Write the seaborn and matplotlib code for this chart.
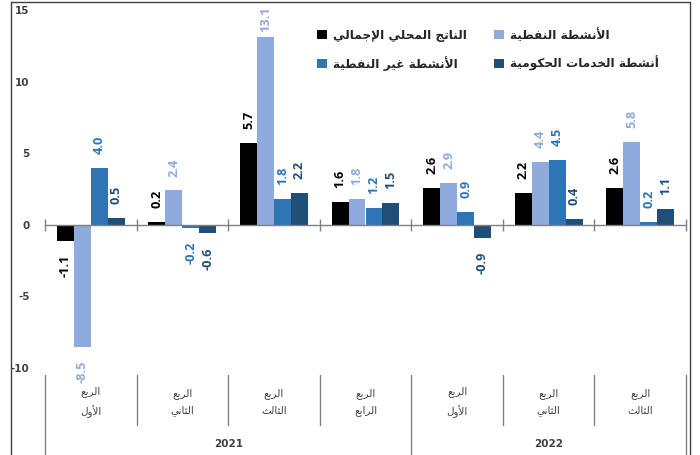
import matplotlib
matplotlib.use("Agg")
import matplotlib.pyplot as plt
from matplotlib.lines import Line2D
import matplotlib.transforms as mtransforms
import seaborn as sns
import pandas as pd

# ---------------- data ----------------
periods = ["2021-Q1", "2021-Q2", "2021-Q3", "2021-Q4", "2022-Q1", "2022-Q2", "2022-Q3"]
quarter_labels = ["الربع\nالأول", "الربع\nالثاني", "الربع\nالثالث", "الربع\nالرابع",
                  "الربع\nالأول", "الربع\nالثاني", "الربع\nالثالث"]
years = ["2021", "2022"]
year_span = [4, 3]

series_names = ["الناتج المحلي الإجمالي", "الأنشطة النفطية",
                "الأنشطة غير النفطية", "أنشطة الخدمات الحكومية"]
gdp = [-1.1, 0.2, 5.7, 1.6, 2.6, 2.2, 2.6]
oil = [-8.5, 2.4, 13.1, 1.8, 2.9, 4.4, 5.8]
non_oil = [4.0, -0.2, 1.8, 1.2, 0.9, 4.5, 0.2]
gov = [0.5, -0.6, 2.2, 1.5, -0.9, 0.4, 1.1]
colors = ["#000000", "#8FAADC", "#2E75B6", "#1F4E79"]

yticks = [-10, -5, 0, 5, 10, 15]

# ---------------- minimal Arabic shaping for matplotlib ----------------
def _dual(cp):
    return tuple(chr(cp + k) for k in range(4))

def _right(cp):
    return (chr(cp), chr(cp + 1), None, None)

FORMS = {
    'ء': ('\uFE80', None, None, None),
    'آ': _right(0xFE81), 'أ': _right(0xFE83), 'ؤ': _right(0xFE85), 'إ': _right(0xFE87),
    'ئ': _dual(0xFE89), 'ا': _right(0xFE8D), 'ب': _dual(0xFE8F), 'ة': _right(0xFE93),
    'ت': _dual(0xFE95), 'ث': _dual(0xFE99), 'ج': _dual(0xFE9D), 'ح': _dual(0xFEA1),
    'خ': _dual(0xFEA5), 'د': _right(0xFEA9), 'ذ': _right(0xFEAB), 'ر': _right(0xFEAD),
    'ز': _right(0xFEAF), 'س': _dual(0xFEB1), 'ش': _dual(0xFEB5), 'ص': _dual(0xFEB9),
    'ض': _dual(0xFEBD), 'ط': _dual(0xFEC1), 'ظ': _dual(0xFEC5), 'ع': _dual(0xFEC9),
    'غ': _dual(0xFECD), 'ف': _dual(0xFED1), 'ق': _dual(0xFED5), 'ك': _dual(0xFED9),
    'ل': _dual(0xFEDD), 'م': _dual(0xFEE1), 'ن': _dual(0xFEE5), 'ه': _dual(0xFEE9),
    'و': _right(0xFEED), 'ى': _right(0xFEEF), 'ي': _dual(0xFEF1),
}
LAM_ALEF = {'آ': ('\uFEF5', '\uFEF6'), 'أ': ('\uFEF7', '\uFEF8'),
            'إ': ('\uFEF9', '\uFEFA'), 'ا': ('\uFEFB', '\uFEFC')}


def _shape_line(text):
    items = []
    i = 0
    while i < len(text):
        c = text[i]
        if c == 'ل' and i + 1 < len(text) and text[i + 1] in LAM_ALEF:
            items.append(('LA', text[i + 1]))
            i += 2
        else:
            items.append((c, None))
            i += 1

    def joins_next(it):
        c, _ = it
        if c == 'LA':
            return False
        f = FORMS.get(c)
        return f is not None and f[2] is not None

    def joins_prev(it):
        c, _ = it
        if c == 'LA':
            return True
        f = FORMS.get(c)
        return f is not None and f[1] is not None

    out = []
    for k, it in enumerate(items):
        prev = items[k - 1] if k > 0 else None
        nxt = items[k + 1] if k + 1 < len(items) else None
        p = prev is not None and joins_next(prev) and joins_prev(it)
        n = nxt is not None and joins_next(it) and joins_prev(nxt)
        c, a = it
        if c == 'LA':
            out.append(LAM_ALEF[a][1 if p else 0])
        elif c in FORMS:
            iso, fin, ini, med = FORMS[c]
            if p and n:
                out.append(med)
            elif p:
                out.append(fin)
            elif n:
                out.append(ini)
            else:
                out.append(iso)
        else:
            out.append(c)
    return ''.join(reversed(out))


def ar(text):
    return '\n'.join(_shape_line(line) for line in text.split('\n'))


# ---------------- data frame ----------------
values = [gdp, oil, non_oil, gov]
rows = []
for name, vals in zip(series_names, values):
    for per, v in zip(periods, vals):
        rows.append({"period": per, "series": name, "value": v})
df = pd.DataFrame(rows)

# ---------------- plot ----------------
sns.set_theme(style="white")
plt.rcParams["font.family"] = ["DejaVu Sans"]

W, H = 700, 455
fig = plt.figure(figsize=(W / 100, H / 100), dpi=100)
ax = fig.add_axes([45 / W, (H - 368) / H, 641 / W, 358 / H])

sns.barplot(data=df, x="period", y="value", hue="series", order=periods,
            hue_order=series_names, palette=dict(zip(series_names, colors)),
            width=0.74, linewidth=0, saturation=1, legend=False, ax=ax,
            errorbar=None)

ax.set_xlim(-0.5, len(periods) - 0.5)
ax.set_ylim(yticks[0], yticks[-1])
ax.set_xlabel("")
ax.set_ylabel("")

# bar value labels
all_labels = []
for cont, col in zip(ax.containers, colors):
    all_labels += ax.bar_label(cont, fmt="%.1f", padding=10, rotation=90, color=col,
                               fontsize=9.2, fontweight="bold", family="Open Sans",
                               clip_on=False)

# spines / zero axis
for s in ["top", "right", "left"]:
    ax.spines[s].set_visible(False)
ax.spines["bottom"].set_position(("data", 0))
ax.spines["bottom"].set_color("#808080")
ax.spines["bottom"].set_linewidth(1.0)
ax.set_xticks(range(len(periods)))
ax.set_xticklabels([""] * len(periods))
ax.tick_params(axis="x", which="major", length=0)
ax.set_xticks([i - 0.5 for i in range(len(periods) + 1)], minor=True)
ax.tick_params(axis="x", which="minor", direction="inout", length=8, width=1,
               color="#808080", bottom=True)

ax.set_yticks(yticks)
ax.set_yticklabels([str(t) for t in yticks])
ax.tick_params(axis="y", length=0, pad=11, labelsize=7.5, labelcolor="#404040")
for lab in ax.get_yticklabels():
    lab.set_fontweight("bold")

# keep value labels inside the figure frame at the top (as in the reference)
fig.canvas.draw()
renderer = fig.canvas.get_renderer()
ax_top = ax.get_window_extent(renderer).y1
for ann in all_labels:
    bb = ann.get_window_extent(renderer)
    if bb.y1 > ax_top + 4:
        shift_px = bb.y1 - (ax_top + 4)
        dx, dy = ann.xyann
        ann.xyann = (dx, dy - shift_px * 72 / fig.dpi)

# category labels below plot
trans = mtransforms.blended_transform_factory(ax.transData, ax.transAxes)
for i, ql in enumerate(quarter_labels):
    ax.text(i, -0.095, ar(ql), transform=trans, ha="center", va="center",
            fontsize=7.5, color="#404040", linespacing=1.8)

# separators
start = 0
year_bounds = [0]
for span in year_span:
    start += span
    year_bounds.append(start)
for b in range(len(periods) + 1):
    x = b - 0.5
    y_end = -0.245 if b in year_bounds else -0.16
    ax.add_line(Line2D([x, x], [-0.02, y_end], transform=trans, color="#808080",
                       lw=1, clip_on=False))

for k, yr in enumerate(years):
    xc = (year_bounds[k] + year_bounds[k + 1] - 1) / 2
    ax.text(xc, -0.212, yr, transform=trans, ha="center", va="center",
            fontsize=7.5, fontweight="bold", color="#404040")

# outer frame
fx = lambda px: px / W
fy = lambda py: 1 - py / H
frame_kw = dict(color="#404040", lw=1, transform=fig.transFigure)
fig.add_artist(Line2D([fx(11), fx(11)], [fy(2), 0], **frame_kw))
fig.add_artist(Line2D([fx(11), fx(690)], [fy(2), fy(2)], **frame_kw))
fig.add_artist(Line2D([fx(690), fx(690)], [fy(2), 0], **frame_kw))

# legend
legend_order = [0, 2, 1, 3]
handles = [ax.containers[i] for i in legend_order]
labels = [ar(series_names[i]) for i in legend_order]
fig.legend(handles, labels, loc="upper left", bbox_to_anchor=(fx(311), fy(22)),
           ncol=2, frameon=False, borderpad=0, handlelength=0.85, handleheight=0.85,
           handletextpad=0.5, columnspacing=2.2, labelspacing=1.15,
           prop={"size": 8.7, "weight": "bold", "family": "DejaVu Sans"})

fig.savefig("out.png", dpi=100)
